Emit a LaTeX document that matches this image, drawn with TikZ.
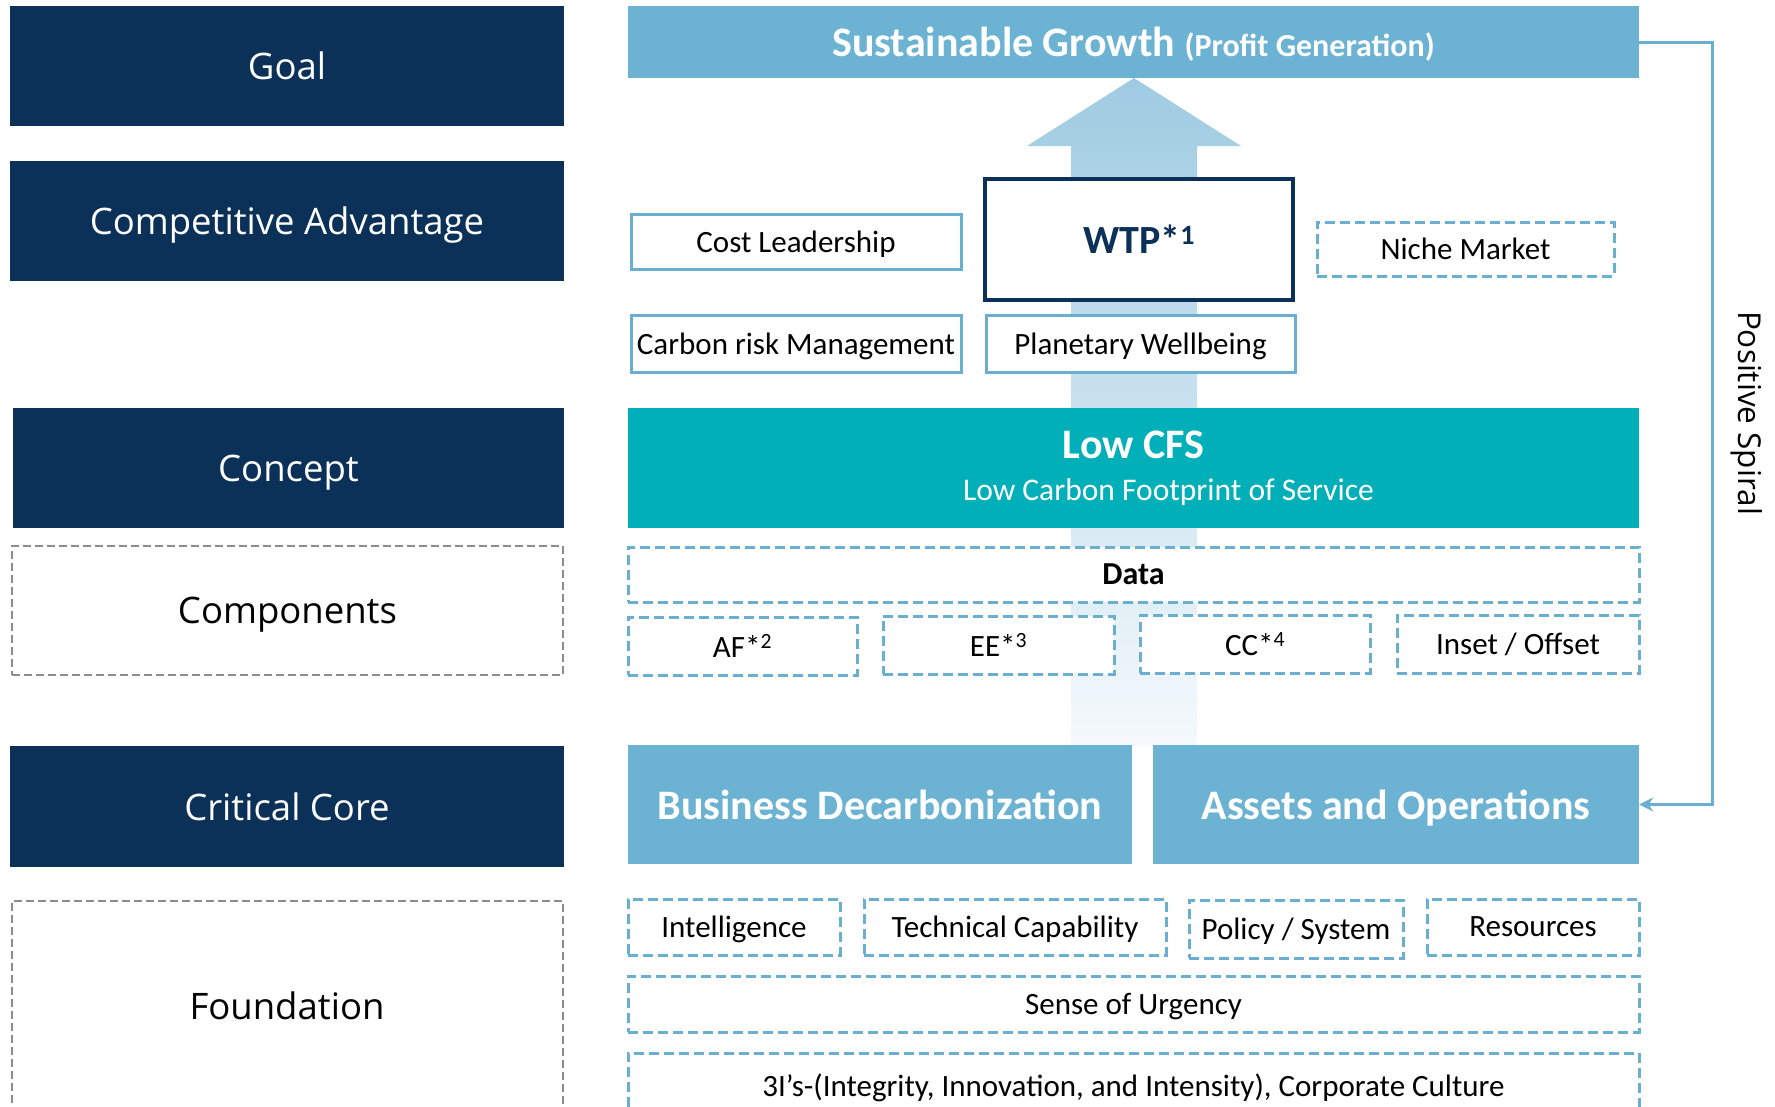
\documentclass[tikz,border=0pt]{standalone}
\usepackage{fontspec}
\setmainfont{Carlito}
\newfontfamily\segoe{Open Sans}
\usetikzlibrary{arrows.meta,positioning}
\definecolor{navy}{HTML}{0B3159}
\definecolor{skyblue}{HTML}{6CB2D3}
\definecolor{tealcfs}{HTML}{00AFB8}
\definecolor{edgeblue}{HTML}{6AAED0}
\definecolor{dashgray}{HTML}{8C8C8C}
\definecolor{arrowtop}{HTML}{9FCBE2}
\definecolor{arrowbot}{HTML}{F5F9FC}
\tikzset{
  level/.style={rectangle,fill=navy,text=white,inner sep=0pt,text depth=0pt,minimum width=554pt,minimum height=120pt,
    font=\segoe\fontsize{36.5}{40}\selectfont},
  leveldash/.style={level,fill=white,text=black,draw=dashgray,line width=2.5pt,dash pattern=on 8pt off 4pt},
  bar/.style={rectangle,fill=skyblue,text=white,inner sep=0pt,text depth=0pt,minimum width=1011pt,
    font=\fontsize{42}{46}\selectfont\bfseries},
  solidbox/.style={rectangle,draw=edgeblue,fill=white,line width=3pt,inner sep=0pt,text depth=0pt,
    font=\fontsize{31}{35}\selectfont},
  dashbox/.style={solidbox,dash pattern=on 10pt off 5pt},
  spiral/.style={draw=edgeblue,line width=3pt,-{Stealth[length=14pt,width=14pt]}}
}

\begin{document}
\begin{tikzpicture}[x=1pt,y=-1pt]
  \clip (0,0) rectangle (1775,1106);
  \fill[white] (0,0) rectangle (1775,1106);

  % left column
  \node[level] (goal) at (287,66) {Goal};
  \node[level] (adv) at (287,221) {Competitive Advantage};
  \node[level,minimum width=551pt] (concept) at (288.5,468) {Concept};
  \node[leveldash,minimum width=551pt,minimum height=129pt] (comp) at (287.5,610.5) {Components};
  \node[level,minimum height=121pt] (core) at (287,806.5) {Critical Core};
  \node[leveldash,minimum width=551pt,minimum height=240pt] (found) at (287.5,1021) {};
  \node[text depth=0pt] at (287,1006) {\segoe\fontsize{36.5}{40}\selectfont Foundation};

  % big arrow behind
  \shade[top color=arrowtop,bottom color=arrowbot] (1134,78) -- (1241,146) -- (1197,146) -- (1197,746)
    -- (1071,746) -- (1071,146) -- (1027,146) -- cycle;

  \node[bar,minimum height=72pt] (growth) at (1133.5,42)
    {Sustainable Growth {\fontsize{32}{36}\selectfont(Profit Generation)}};

  \node[solidbox,minimum width=330pt,minimum height=55pt] (cost) at (796,241.5) {Cost Leadership};
  \node[solidbox,draw=navy,line width=3.5pt,minimum width=308pt,minimum height=121pt,
    font=\fontsize{40}{44}\selectfont\bfseries,text=navy] (wtp) at (1139,239.5) {WTP*\textsuperscript{1}};
  \node[dashbox,minimum width=297pt,minimum height=54pt] (niche) at (1465.5,249) {Niche Market};
  \node[solidbox,minimum width=330pt,minimum height=57pt] (risk) at (796,343.5) {Carbon risk Management};
  \node[solidbox,minimum width=309pt,minimum height=57pt] (planet) at (1140.5,343.5) {Planetary Wellbeing};

  \node[bar,fill=tealcfs,minimum height=120pt,align=center,text depth=,font=\fontsize{31.5}{42}\selectfont] (cfs) at (1133.5,468)
    {{\fontsize{42}{42}\selectfont\bfseries Low CFS}\\\hspace*{70pt}Low Carbon Footprint of Service};

  \node[dashbox,minimum width=1011pt,minimum height=55pt,font=\fontsize{32}{36}\selectfont\bfseries] (data) at (1133.5,574.5) {Data};
  \node[dashbox,minimum width=229pt,minimum height=58pt] (af) at (742.5,646) {AF*\textsuperscript{2}};
  \node[dashbox,minimum width=231pt,minimum height=58pt] (ee) at (998.5,645) {EE*\textsuperscript{3}};
  \node[dashbox,minimum width=230pt,minimum height=58pt] (cc) at (1255,644) {CC*\textsuperscript{4}};
  \node[dashbox,minimum width=242pt,minimum height=58pt] (inset) at (1518,644) {Inset / Offset};

  \node[bar,minimum width=504pt,minimum height=119pt] (decarb) at (880,804.5) {Business Decarbonization};
  \node[bar,minimum width=486pt,minimum height=119pt] (assets) at (1396,804.5) {Assets and Operations};

  \node[dashbox,minimum width=212pt,minimum height=56pt] (intel) at (734,927) {Intelligence};
  \node[dashbox,minimum width=302pt,minimum height=56pt] (tech) at (1015,927) {Technical Capability};
  \node[dashbox,minimum width=214pt,minimum height=58pt] (policy) at (1296,929) {Policy / System};
  \node[dashbox,minimum width=212pt,minimum height=56pt] (res) at (1533,927) {Resources};
  \node[dashbox,minimum width=1011pt,minimum height=56pt] (urgency) at (1133.5,1004) {Sense of Urgency};
  \node[dashbox,minimum width=1011pt,minimum height=64pt] (culture) at (1133.5,1085)
    {3I’s-(Integrity, Innovation, and Intensity), Corporate Culture};

  % positive spiral
  \coordinate (turn) at (1712,42);
  \draw[spiral] (growth.east) -- (turn) |- (assets.east);
  \node[rotate=-90,font=\segoe\fontsize{31.5}{35}\selectfont] (spirallabel) at (1747,413) {Positive Spiral};
\end{tikzpicture}
\end{document}
